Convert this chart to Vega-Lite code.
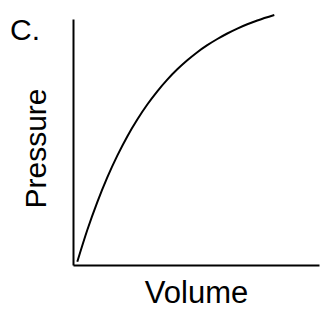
{
  "$schema": "https://vega.github.io/schema/vega-lite/v6.json",
  "autosize": "none",
  "width": 246,
  "height": 246,
  "padding": {"left": 73, "top": 19, "right": 11, "bottom": 46},
  "background": "white",
  "config": {
    "view": {"stroke": null},
    "font": "Liberation Sans"
  },
  "title": {
    "text": "C.",
    "anchor": "start",
    "frame": "group",
    "orient": "top",
    "dx": -63,
    "dy": 63,
    "baseline": "alphabetic",
    "fontSize": 30,
    "fontWeight": "normal",
    "color": "black",
    "font": "Liberation Sans"
  },
  "data": {
    "values": [
      {"volume": 1.75, "pressure": 1.34},
      {"volume": 5.81, "pressure": 14.23},
      {"volume": 9.88, "pressure": 25.57},
      {"volume": 13.94, "pressure": 35.61},
      {"volume": 18.01, "pressure": 44.47},
      {"volume": 22.07, "pressure": 52.28},
      {"volume": 26.14, "pressure": 59.15},
      {"volume": 30.20, "pressure": 65.24},
      {"volume": 34.27, "pressure": 70.61},
      {"volume": 38.33, "pressure": 75.37},
      {"volume": 42.40, "pressure": 79.55},
      {"volume": 46.46, "pressure": 83.21},
      {"volume": 50.53, "pressure": 86.50},
      {"volume": 54.59, "pressure": 89.35},
      {"volume": 58.66, "pressure": 91.87},
      {"volume": 62.72, "pressure": 94.11},
      {"volume": 66.79, "pressure": 96.10},
      {"volume": 70.85, "pressure": 97.85},
      {"volume": 74.92, "pressure": 99.39},
      {"volume": 81.83, "pressure": 101.63}
    ]
  },
  "mark": {"type": "line", "color": "black", "strokeWidth": 2, "interpolate": "monotone", "clip": false},
  "encoding": {
    "x": {
      "field": "volume",
      "type": "quantitative",
      "scale": {"domain": [0, 100], "nice": false, "zero": false},
      "axis": {
        "title": "Volume",
        "titleFontSize": 31,
        "titleFontWeight": "normal",
        "titleColor": "black",
        "titlePadding": 13,
        "titleFont": "Liberation Sans",
        "ticks": false,
        "labels": false,
        "grid": false,
        "domainColor": "black",
        "domainWidth": 2
      }
    },
    "y": {
      "field": "pressure",
      "type": "quantitative",
      "scale": {"domain": [0, 100], "nice": false, "zero": false},
      "axis": {
        "title": "Pressure",
        "titleFontSize": 30,
        "titleFontWeight": "normal",
        "titleColor": "black",
        "titlePadding": 22,
        "titleFont": "Liberation Sans",
        "titleY": 129,
        "ticks": false,
        "labels": false,
        "grid": false,
        "domainColor": "black",
        "domainWidth": 2
      }
    }
  }
}
